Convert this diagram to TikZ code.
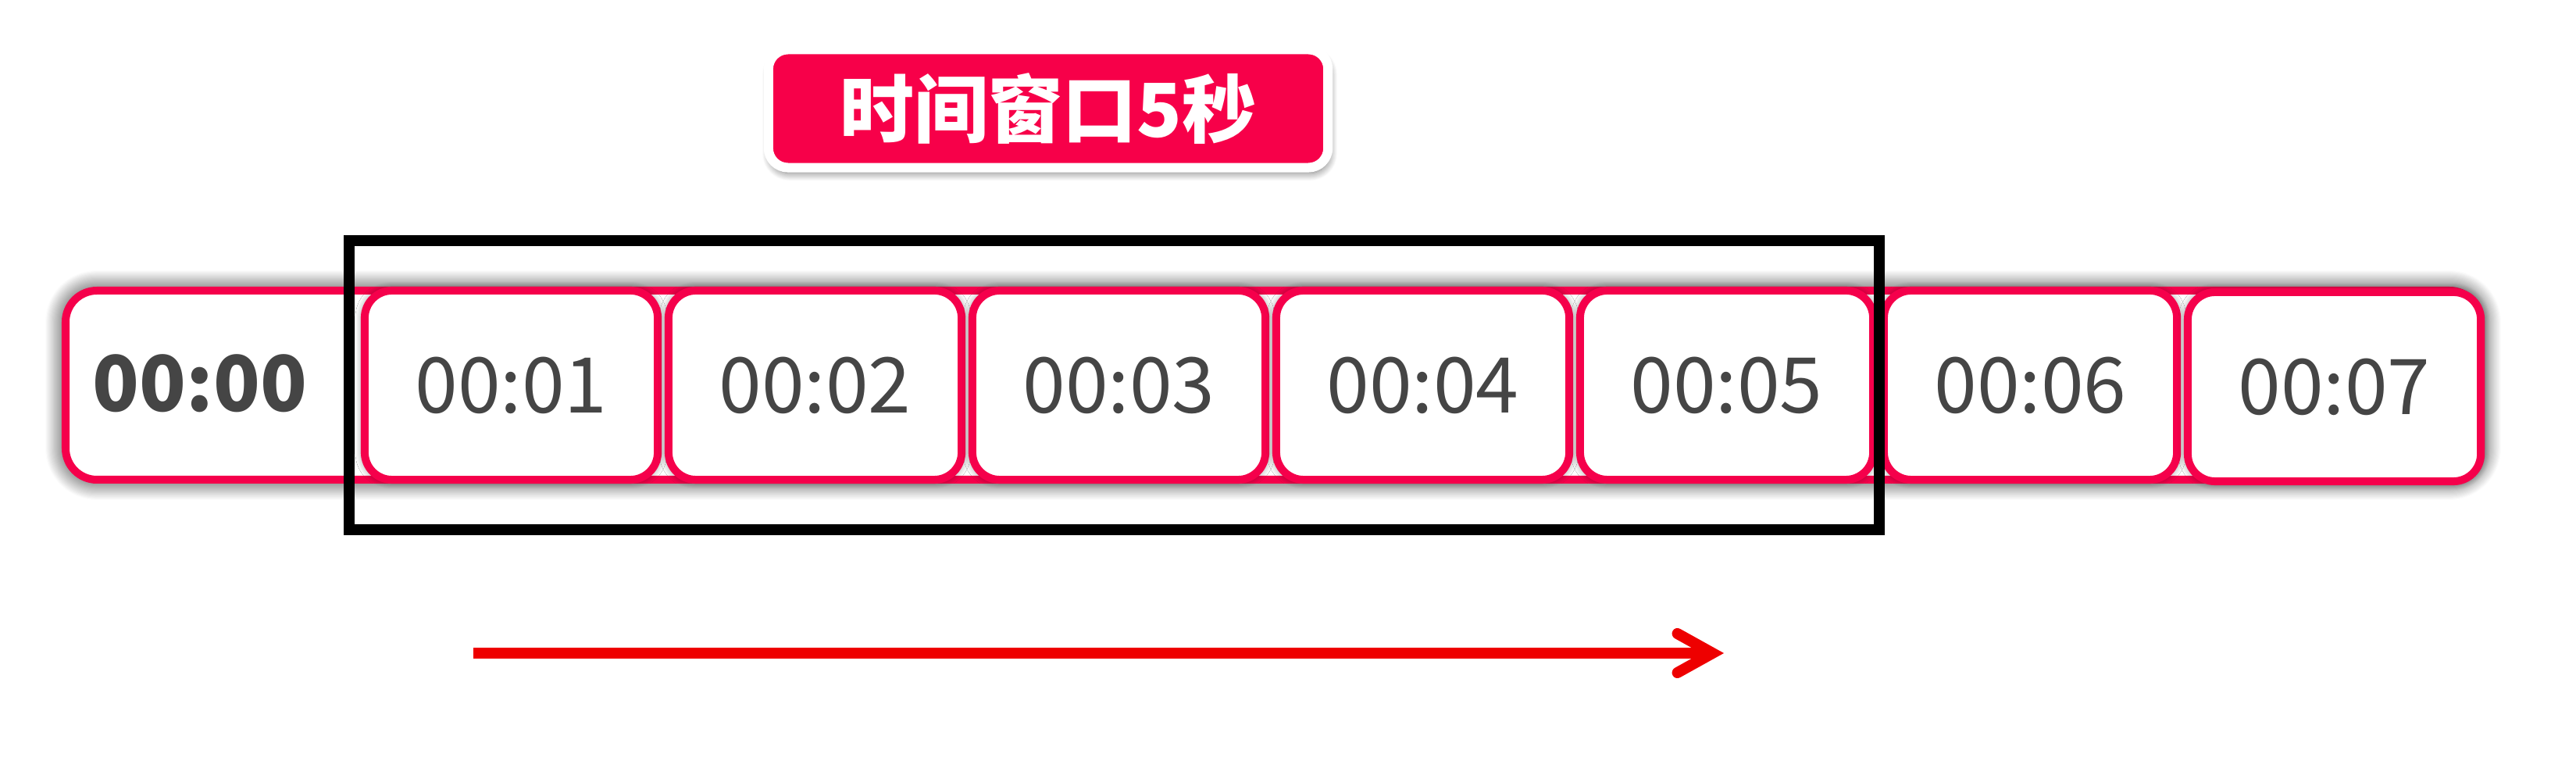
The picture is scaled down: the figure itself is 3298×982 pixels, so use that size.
\documentclass[tikz,border=0pt]{standalone}
\usepackage{fontspec}
\setmainfont{Noto Sans CJK SC}
\usetikzlibrary{arrows.meta,shadows.blur}
\definecolor{boxred}{HTML}{F5004B}
\definecolor{titlered}{HTML}{F70049}
\definecolor{arrowred}{HTML}{EE0000}
\definecolor{numgray}{HTML}{454545}
\tikzset{
  strip/.style={draw=boxred, fill=white, line width=1mm, rounded corners=4mm,
    blur shadow={shadow xshift=0mm, shadow yshift=0mm, shadow blur radius=2.6mm,
      shadow blur steps=24, shadow opacity=95}},
  cell/.style={draw=boxred, fill=white, line width=1mm, rounded corners=3.5mm,
    minimum width=37.5mm, minimum height=24.2mm, inner sep=0pt, text=numgray,
    font=\fontsize{28}{30}\selectfont,
    blur shadow={shadow xshift=0mm, shadow yshift=0mm, shadow blur radius=1.2mm,
      shadow blur steps=12, shadow opacity=55}},
  title/.style={draw=white, fill=titlered, line width=1.2mm, rounded corners=2.5mm,
    minimum width=71.6mm, minimum height=15.1mm, inner sep=0pt, text=white,
    font=\bfseries\fontsize{27}{30}\selectfont,
    blur shadow={shadow xshift=0.2mm, shadow yshift=-0.7mm, shadow blur radius=1mm,
      shadow blur steps=12, shadow opacity=55}},
}
\begin{document}
\begin{tikzpicture}[x=0.01cm,y=0.01cm]
\useasboundingbox (0,0) rectangle (3298,982);
\draw[strip] (84,368) rectangle (3176,610);
\node[text=numgray, font=\bfseries\fontsize{28}{30}\selectfont] (t0) at (256,491) {00:00};
\node[cell] (t1) at (654.5,489) {00:01};
\node[cell] (t2) at (1043.5,489) {00:02};
\node[cell] (t3) at (1432.5,489) {00:03};
\node[cell] (t4) at (1821.5,489) {00:04};
\node[cell] (t5) at (2210.5,489) {00:05};
\node[cell] (t6) at (2599.5,489) {00:06};
\node[cell] (t7) at (2988.5,487) {00:07};
\draw[line width=1.4mm] (447,674) rectangle (2406,304);
\node[title] (win) at (1342,843) {时间窗口5秒};
\coordinate (arrS) at (606,146);
\coordinate (arrE) at (2207,146);
\draw[arrowred, line width=1.4mm, -{Straight Barb[length=4.5mm, width=5mm, line cap=round]}] (arrS) -- (arrE);
\end{tikzpicture}
\end{document}
